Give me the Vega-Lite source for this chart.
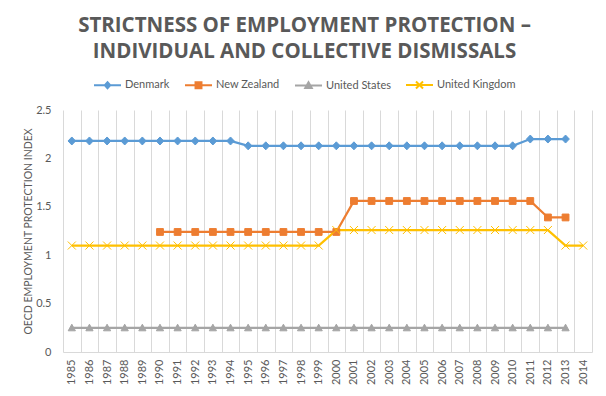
{
  "$schema": "https://vega.github.io/schema/vega-lite/v6.json",
  "width": 529,
  "height": 242,
  "autosize": {"type": "none"},
  "padding": {"left": 63, "top": 110, "right": 14, "bottom": 44},
  "background": "white",
  "title": {
    "text": ["STRICTNESS OF EMPLOYMENT PROTECTION –", "INDIVIDUAL AND COLLECTIVE DISMISSALS"],
    "font": "Open Sans",
    "fontWeight": "bold",
    "fontSize": 20.5,
    "color": "#595959",
    "lineHeight": 25.5,
    "anchor": "middle",
    "frame": "group",
    "dx": -23,
    "offset": 8
  },
  "config": {
    "view": {"stroke": null},
    "font": "Lato",
    "axis": {"labelFont": "Lato", "titleFont": "Lato", "labelColor": "#595959", "titleColor": "#595959"}
  },
  "data": {
    "values": [
      {"country": "Denmark", "year": 1985, "value": 2.18},
      {"country": "Denmark", "year": 1986, "value": 2.18},
      {"country": "Denmark", "year": 1987, "value": 2.18},
      {"country": "Denmark", "year": 1988, "value": 2.18},
      {"country": "Denmark", "year": 1989, "value": 2.18},
      {"country": "Denmark", "year": 1990, "value": 2.18},
      {"country": "Denmark", "year": 1991, "value": 2.18},
      {"country": "Denmark", "year": 1992, "value": 2.18},
      {"country": "Denmark", "year": 1993, "value": 2.18},
      {"country": "Denmark", "year": 1994, "value": 2.18},
      {"country": "Denmark", "year": 1995, "value": 2.13},
      {"country": "Denmark", "year": 1996, "value": 2.13},
      {"country": "Denmark", "year": 1997, "value": 2.13},
      {"country": "Denmark", "year": 1998, "value": 2.13},
      {"country": "Denmark", "year": 1999, "value": 2.13},
      {"country": "Denmark", "year": 2000, "value": 2.13},
      {"country": "Denmark", "year": 2001, "value": 2.13},
      {"country": "Denmark", "year": 2002, "value": 2.13},
      {"country": "Denmark", "year": 2003, "value": 2.13},
      {"country": "Denmark", "year": 2004, "value": 2.13},
      {"country": "Denmark", "year": 2005, "value": 2.13},
      {"country": "Denmark", "year": 2006, "value": 2.13},
      {"country": "Denmark", "year": 2007, "value": 2.13},
      {"country": "Denmark", "year": 2008, "value": 2.13},
      {"country": "Denmark", "year": 2009, "value": 2.13},
      {"country": "Denmark", "year": 2010, "value": 2.13},
      {"country": "Denmark", "year": 2011, "value": 2.2},
      {"country": "Denmark", "year": 2012, "value": 2.2},
      {"country": "Denmark", "year": 2013, "value": 2.2},
      {"country": "New Zealand", "year": 1990, "value": 1.24},
      {"country": "New Zealand", "year": 1991, "value": 1.24},
      {"country": "New Zealand", "year": 1992, "value": 1.24},
      {"country": "New Zealand", "year": 1993, "value": 1.24},
      {"country": "New Zealand", "year": 1994, "value": 1.24},
      {"country": "New Zealand", "year": 1995, "value": 1.24},
      {"country": "New Zealand", "year": 1996, "value": 1.24},
      {"country": "New Zealand", "year": 1997, "value": 1.24},
      {"country": "New Zealand", "year": 1998, "value": 1.24},
      {"country": "New Zealand", "year": 1999, "value": 1.24},
      {"country": "New Zealand", "year": 2000, "value": 1.24},
      {"country": "New Zealand", "year": 2001, "value": 1.56},
      {"country": "New Zealand", "year": 2002, "value": 1.56},
      {"country": "New Zealand", "year": 2003, "value": 1.56},
      {"country": "New Zealand", "year": 2004, "value": 1.56},
      {"country": "New Zealand", "year": 2005, "value": 1.56},
      {"country": "New Zealand", "year": 2006, "value": 1.56},
      {"country": "New Zealand", "year": 2007, "value": 1.56},
      {"country": "New Zealand", "year": 2008, "value": 1.56},
      {"country": "New Zealand", "year": 2009, "value": 1.56},
      {"country": "New Zealand", "year": 2010, "value": 1.56},
      {"country": "New Zealand", "year": 2011, "value": 1.56},
      {"country": "New Zealand", "year": 2012, "value": 1.39},
      {"country": "New Zealand", "year": 2013, "value": 1.39},
      {"country": "United States", "year": 1985, "value": 0.25},
      {"country": "United States", "year": 1986, "value": 0.25},
      {"country": "United States", "year": 1987, "value": 0.25},
      {"country": "United States", "year": 1988, "value": 0.25},
      {"country": "United States", "year": 1989, "value": 0.25},
      {"country": "United States", "year": 1990, "value": 0.25},
      {"country": "United States", "year": 1991, "value": 0.25},
      {"country": "United States", "year": 1992, "value": 0.25},
      {"country": "United States", "year": 1993, "value": 0.25},
      {"country": "United States", "year": 1994, "value": 0.25},
      {"country": "United States", "year": 1995, "value": 0.25},
      {"country": "United States", "year": 1996, "value": 0.25},
      {"country": "United States", "year": 1997, "value": 0.25},
      {"country": "United States", "year": 1998, "value": 0.25},
      {"country": "United States", "year": 1999, "value": 0.25},
      {"country": "United States", "year": 2000, "value": 0.25},
      {"country": "United States", "year": 2001, "value": 0.25},
      {"country": "United States", "year": 2002, "value": 0.25},
      {"country": "United States", "year": 2003, "value": 0.25},
      {"country": "United States", "year": 2004, "value": 0.25},
      {"country": "United States", "year": 2005, "value": 0.25},
      {"country": "United States", "year": 2006, "value": 0.25},
      {"country": "United States", "year": 2007, "value": 0.25},
      {"country": "United States", "year": 2008, "value": 0.25},
      {"country": "United States", "year": 2009, "value": 0.25},
      {"country": "United States", "year": 2010, "value": 0.25},
      {"country": "United States", "year": 2011, "value": 0.25},
      {"country": "United States", "year": 2012, "value": 0.25},
      {"country": "United States", "year": 2013, "value": 0.25},
      {"country": "United Kingdom", "year": 1985, "value": 1.1},
      {"country": "United Kingdom", "year": 1986, "value": 1.1},
      {"country": "United Kingdom", "year": 1987, "value": 1.1},
      {"country": "United Kingdom", "year": 1988, "value": 1.1},
      {"country": "United Kingdom", "year": 1989, "value": 1.1},
      {"country": "United Kingdom", "year": 1990, "value": 1.1},
      {"country": "United Kingdom", "year": 1991, "value": 1.1},
      {"country": "United Kingdom", "year": 1992, "value": 1.1},
      {"country": "United Kingdom", "year": 1993, "value": 1.1},
      {"country": "United Kingdom", "year": 1994, "value": 1.1},
      {"country": "United Kingdom", "year": 1995, "value": 1.1},
      {"country": "United Kingdom", "year": 1996, "value": 1.1},
      {"country": "United Kingdom", "year": 1997, "value": 1.1},
      {"country": "United Kingdom", "year": 1998, "value": 1.1},
      {"country": "United Kingdom", "year": 1999, "value": 1.1},
      {"country": "United Kingdom", "year": 2000, "value": 1.26},
      {"country": "United Kingdom", "year": 2001, "value": 1.26},
      {"country": "United Kingdom", "year": 2002, "value": 1.26},
      {"country": "United Kingdom", "year": 2003, "value": 1.26},
      {"country": "United Kingdom", "year": 2004, "value": 1.26},
      {"country": "United Kingdom", "year": 2005, "value": 1.26},
      {"country": "United Kingdom", "year": 2006, "value": 1.26},
      {"country": "United Kingdom", "year": 2007, "value": 1.26},
      {"country": "United Kingdom", "year": 2008, "value": 1.26},
      {"country": "United Kingdom", "year": 2009, "value": 1.26},
      {"country": "United Kingdom", "year": 2010, "value": 1.26},
      {"country": "United Kingdom", "year": 2011, "value": 1.26},
      {"country": "United Kingdom", "year": 2012, "value": 1.26},
      {"country": "United Kingdom", "year": 2013, "value": 1.1},
      {"country": "United Kingdom", "year": 2014, "value": 1.1}
    ]
  },
  "encoding": {
    "x": {
      "field": "year",
      "type": "ordinal",
      "scale": {"type": "band", "paddingInner": 0, "paddingOuter": 0},
      "axis": {
        "title": null,
        "labelAngle": 270,
        "labelAlign": "right",
        "labelBaseline": "middle",
        "labelFontSize": 11,
        "labelPadding": 7,
        "ticks": false,
        "tickBand": "extent",
        "grid": true,
        "gridColor": "#d9d9d9",
        "gridWidth": 1,
        "domainColor": "#d9d9d9",
        "domainWidth": 1
      }
    },
    "y": {
      "field": "value",
      "type": "quantitative",
      "scale": {"domain": [0, 2.5], "nice": false, "zero": true},
      "axis": {
        "title": "OECD EMPLOYMENT PROTECTION INDEX",
        "titleFontSize": 10.5,
        "titleFontWeight": "normal",
        "titlePadding": 2,
        "values": [0, 0.5, 1, 1.5, 2, 2.5],
        "format": "~g",
        "labelFontSize": 11,
        "labelPadding": 12,
        "grid": false,
        "ticks": false,
        "domain": false
      }
    },
    "color": {
      "field": "country",
      "type": "nominal",
      "scale": {
        "domain": ["Denmark", "New Zealand", "United States", "United Kingdom"],
        "range": ["#5B9BD5", "#ED7D31", "#A5A5A5", "#FFC000"]
      },
      "legend": {
        "orient": "none",
        "legendX": 30,
        "legendY": -40,
        "direction": "horizontal",
        "title": null,
        "padding": 0,
        "labelFont": "Lato",
        "labelFontSize": 11,
        "labelColor": "#595959",
        "labelOffset": 3,
        "columnPadding": 11,
        "symbolSize": 729,
        "symbolStrokeWidth": 2,
        "encode": {
          "symbols": {
            "update": {
              "shape": {"signal": "datum.value === 'Denmark' ? 'M-1,0L1,0M0,-0.22L0.2,0L0,0.22L-0.2,0Z' : datum.value === 'New Zealand' ? 'M-1,0L1,0M-0.22,-0.22L0.22,-0.22L0.22,0.22L-0.22,0.22Z' : datum.value === 'United States' ? 'M-1,0L1,0M0,-0.24L0.24,0.18L-0.24,0.18Z' : 'M-1,0L1,0M-0.26,-0.26L0.26,0.26M-0.26,0.26L0.26,-0.26'"},
              "size": {"value": 729},
              "fill": {"signal": "scale('color', datum.value)"},
              "stroke": {"signal": "scale('color', datum.value)"},
              "strokeWidth": {"value": 2},
              "opacity": {"value": 1},
              "fillOpacity": {"value": 1}
            }
          }
        }
      }
    }
  },
  "layer": [
    {
      "mark": {"type": "line", "strokeWidth": 2.25}
    },
    {
      "transform": [{"filter": "datum.country === 'Denmark'"}],
      "mark": {"type": "point", "filled": true, "size": 64, "strokeWidth": 1, "opacity": 1, "shape": "M0,-1L0.95,0L0,1L-0.95,0Z", "stroke": "#5B9BD5"}
    },
    {
      "transform": [{"filter": "datum.country === 'New Zealand'"}],
      "mark": {"type": "point", "filled": true, "size": 64, "strokeWidth": 1, "opacity": 1, "shape": "M-0.85,-0.85L0.85,-0.85L0.85,0.85L-0.85,0.85Z", "stroke": "#ED7D31"}
    },
    {
      "transform": [{"filter": "datum.country === 'United States'"}],
      "mark": {"type": "point", "filled": true, "size": 64, "strokeWidth": 1, "opacity": 1, "shape": "M0,-0.9L0.9,0.75L-0.9,0.75Z", "stroke": "#A5A5A5"}
    },
    {
      "transform": [{"filter": "datum.country === 'United Kingdom'"}],
      "mark": {"type": "point", "filled": true, "size": 64, "strokeWidth": 1, "opacity": 1, "shape": "M-1,-1L1,1M-1,1L1,-1", "stroke": "#FFC000"}
    }
  ]
}
